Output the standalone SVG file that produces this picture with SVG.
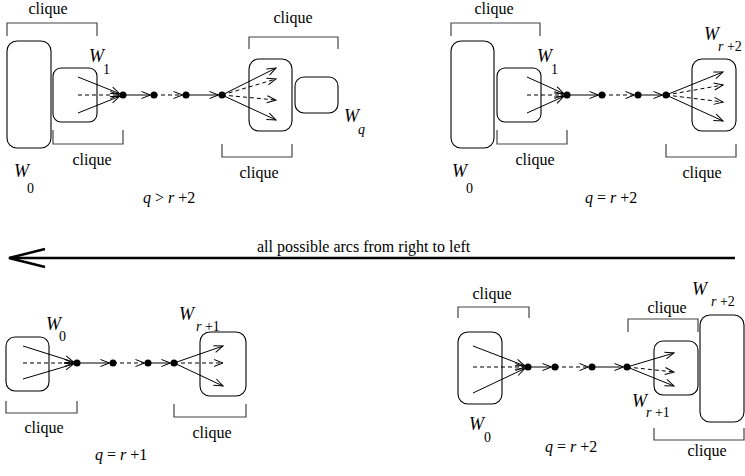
<svg xmlns="http://www.w3.org/2000/svg" width="745" height="476" viewBox="0 0 745 476">
<style>
text{font-family:"Liberation Serif","Times New Roman",serif;fill:#000}
.lbl{font-size:16px;text-anchor:middle}
.W{font-size:18px;font-style:italic}
.sub{font-size:14px}
.it{font-style:italic}
.cond{font-size:16px}
.box{fill:none;stroke:#000;stroke-width:1.1}
.br{fill:none;stroke:#444;stroke-width:1.2}
.e{fill:none;stroke:#000;stroke-width:1;marker-end:url(#ah)}
.d{stroke-dasharray:4 3}
.n{fill:#000}
</style>
<defs>
<marker id="ah" markerUnits="userSpaceOnUse" markerWidth="12" markerHeight="10" viewBox="0 0 12 10" refX="10" refY="5" orient="auto">
<path d="M1,1.5 L10,5 L1,8.5" fill="none" stroke="#000" stroke-width="1"/>
</marker>
</defs>

<!-- Panel A: q > r+2 -->
<g id="A-W0"><rect class="box" x="7" y="41" width="44" height="107" rx="10"/>
<text class="W" x="14" y="177">W</text><text class="sub" x="27" y="193">0</text></g>
<g id="A-W1"><rect class="box" x="53" y="68" width="44" height="54" rx="8"/>
<text class="W" x="89" y="62">W</text><text class="sub" x="103" y="74">1</text></g>
<g id="A-Wq1"><rect class="box" x="249" y="59" width="43" height="72" rx="10"/></g>
<g id="A-Wq"><rect class="box" x="295" y="77" width="43" height="36" rx="9"/>
<text class="W" x="344" y="122">W</text><text class="sub it" x="358" y="134">q</text></g>
<g id="A-brackets">
<path class="br" d="M7,36 V23 H97 V36"/><text class="lbl" x="48" y="14">clique</text>
<path class="br" d="M53,130 V144 H123 V130"/><text class="lbl" x="92" y="165">clique</text>
<path class="br" d="M249,49 V37 H338 V49"/><text class="lbl" x="293" y="23">clique</text>
<path class="br" d="M222,144 V157 H292 V144"/><text class="lbl" x="259" y="178">clique</text>
</g>
<g id="A-cond"><text class="cond" x="143" y="203"><tspan class="it">q</tspan> &gt; <tspan class="it">r</tspan> +2</text></g>

<!-- Panel B: q = r+2 (top right) -->
<g id="B-W0"><rect class="box" x="451" y="41" width="43" height="107" rx="10"/>
<text class="W" x="452" y="177">W</text><text class="sub" x="466" y="193">0</text></g>
<g id="B-W1"><rect class="box" x="497" y="68" width="44" height="54" rx="8"/>
<text class="W" x="537" y="62">W</text><text class="sub" x="551" y="74">1</text></g>
<g id="B-Wr2"><rect class="box" x="692" y="59" width="44" height="72" rx="10"/>
<text class="W" x="704" y="40">W</text><text class="sub" x="718" y="51"><tspan class="it">r</tspan> +2</text></g>
<g id="B-brackets">
<path class="br" d="M451,36 V23 H540 V36"/><text class="lbl" x="494" y="14">clique</text>
<path class="br" d="M497,130 V144 H567 V130"/><text class="lbl" x="535" y="165">clique</text>
<path class="br" d="M666,144 V157 H736 V144"/><text class="lbl" x="702" y="178">clique</text>
</g>
<g id="B-cond"><text class="cond" x="585" y="203"><tspan class="it">q</tspan> = <tspan class="it">r</tspan> +2</text></g>

<!-- Long arrow -->
<g id="long-arrow">
<line x1="10" y1="258" x2="735" y2="258" stroke="#000" stroke-width="2.5"/>
<path d="M45,249 L9,258 L45,267" fill="none" stroke="#000" stroke-width="2.5"/>
<text class="cond" x="257" y="252">all possible arcs from right to left</text>
</g>

<!-- Panel C: q = r+1 -->
<g id="C-W0"><rect class="box" x="6" y="337" width="43" height="54" rx="9"/>
<text class="W" x="46" y="330">W</text><text class="sub" x="59" y="341">0</text></g>
<g id="C-Wr1"><rect class="box" x="200" y="332" width="46" height="64" rx="10"/>
<text class="W" x="179" y="320">W</text><text class="sub" x="196" y="331"><tspan class="it">r</tspan> +1</text></g>
<g id="C-brackets">
<path class="br" d="M6,401 V413 H77 V401"/><text class="lbl" x="44" y="433">clique</text>
<path class="br" d="M174,404 V417 H246 V404"/><text class="lbl" x="212" y="438">clique</text>
</g>
<g id="C-cond"><text class="cond" x="95" y="460"><tspan class="it">q</tspan> = <tspan class="it">r</tspan> +1</text></g>

<!-- Panel D: q = r+2 (bottom right) -->
<g id="D-W0"><rect class="box" x="458" y="332" width="44" height="72" rx="10"/>
<text class="W" x="469" y="430">W</text><text class="sub" x="484" y="442">0</text></g>
<g id="D-Wr1"><rect class="box" x="654" y="341" width="44" height="54" rx="9"/>
<text class="W" x="632" y="407">W</text><text class="sub" x="646" y="417"><tspan class="it">r</tspan> +1</text></g>
<g id="D-Wr2"><rect class="box" x="700" y="315" width="44" height="107" rx="10"/>
<text class="W" x="692" y="295">W</text><text class="sub" x="711" y="306"><tspan class="it">r</tspan> +2</text></g>
<g id="D-brackets">
<path class="br" d="M458,318 V307 H529 V318"/><text class="lbl" x="492" y="299">clique</text>
<path class="br" d="M628,332 V319 H698 V332"/><text class="lbl" x="667" y="313">clique</text>
<path class="br" d="M654,428 V440 H744 V428"/><text class="lbl" x="707" y="456">clique</text>
</g>
<g id="D-cond"><text class="cond" x="545" y="452"><tspan class="it">q</tspan> = <tspan class="it">r</tspan> +2</text></g>

<!-- Connectors -->
<g id="connectors">
<!-- A -->
<line class="e" x1="78" y1="77" x2="119.7" y2="93.7"/>
<line class="e d" x1="78" y1="95" x2="119.5" y2="95"/>
<line class="e" x1="78" y1="113" x2="119.7" y2="96.3"/>
<line class="e" x1="123" y1="95" x2="150.5" y2="95"/>
<line class="e d" x1="154" y1="95" x2="182.5" y2="95"/>
<line class="e" x1="186" y1="95" x2="218.5" y2="95"/>
<line class="e" x1="222" y1="95" x2="276" y2="68"/>
<line class="e d" x1="222" y1="95" x2="276" y2="79"/>
<line class="e d" x1="222" y1="95" x2="276" y2="100"/>
<line class="e" x1="222" y1="95" x2="276" y2="120"/>
<!-- B -->
<line class="e" x1="527" y1="77" x2="563.8" y2="93.6"/>
<line class="e d" x1="527" y1="95" x2="563.5" y2="95"/>
<line class="e" x1="527" y1="113" x2="563.8" y2="96.4"/>
<line class="e" x1="567" y1="95" x2="598.5" y2="95"/>
<line class="e d" x1="602" y1="95" x2="634.5" y2="95"/>
<line class="e" x1="638" y1="95" x2="662.5" y2="95"/>
<line class="e" x1="666" y1="95" x2="723" y2="72"/>
<line class="e d" x1="666" y1="95" x2="723" y2="85"/>
<line class="e d" x1="666" y1="95" x2="723" y2="102"/>
<line class="e" x1="666" y1="95" x2="723" y2="121"/>
<!-- C -->
<line class="e" x1="23" y1="346" x2="73.7" y2="362"/>
<line class="e d" x1="23" y1="363" x2="73.5" y2="363"/>
<line class="e" x1="23" y1="379" x2="73.7" y2="364"/>
<line class="e" x1="77" y1="363" x2="109.5" y2="363"/>
<line class="e d" x1="113" y1="363" x2="144.5" y2="363"/>
<line class="e" x1="148" y1="363" x2="170.5" y2="363"/>
<line class="e" x1="174" y1="363" x2="223" y2="346"/>
<line class="e d" x1="174" y1="363" x2="223" y2="363"/>
<line class="e" x1="174" y1="363" x2="223" y2="386"/>
<!-- D -->
<line class="e" x1="473" y1="346" x2="524.7" y2="365.8"/>
<line class="e d" x1="473" y1="367" x2="524.5" y2="367"/>
<line class="e" x1="473" y1="393" x2="524.8" y2="368.5"/>
<line class="e" x1="528" y1="367" x2="551.5" y2="367"/>
<line class="e d" x1="555" y1="367" x2="588.5" y2="367"/>
<line class="e" x1="592" y1="367" x2="623.5" y2="367"/>
<line class="e" x1="627" y1="367" x2="674" y2="353"/>
<line class="e d" x1="627" y1="367" x2="674" y2="372"/>
<line class="e" x1="627" y1="367" x2="674" y2="386"/>
</g>

<!-- Nodes (dots) -->
<g id="dots">
<circle class="n" cx="123" cy="95" r="3.5"/><circle class="n" cx="154" cy="95" r="3.5"/><circle class="n" cx="186" cy="95" r="3.5"/><circle class="n" cx="222" cy="95" r="3.5"/>
<circle class="n" cx="567" cy="95" r="3.5"/><circle class="n" cx="602" cy="95" r="3.5"/><circle class="n" cx="638" cy="95" r="3.5"/><circle class="n" cx="666" cy="95" r="3.5"/>
<circle class="n" cx="77" cy="363" r="3.5"/><circle class="n" cx="113" cy="363" r="3.5"/><circle class="n" cx="148" cy="363" r="3.5"/><circle class="n" cx="174" cy="363" r="3.5"/>
<circle class="n" cx="528" cy="367" r="3.5"/><circle class="n" cx="555" cy="367" r="3.5"/><circle class="n" cx="592" cy="367" r="3.5"/><circle class="n" cx="627" cy="367" r="3.5"/>
</g>
</svg>
